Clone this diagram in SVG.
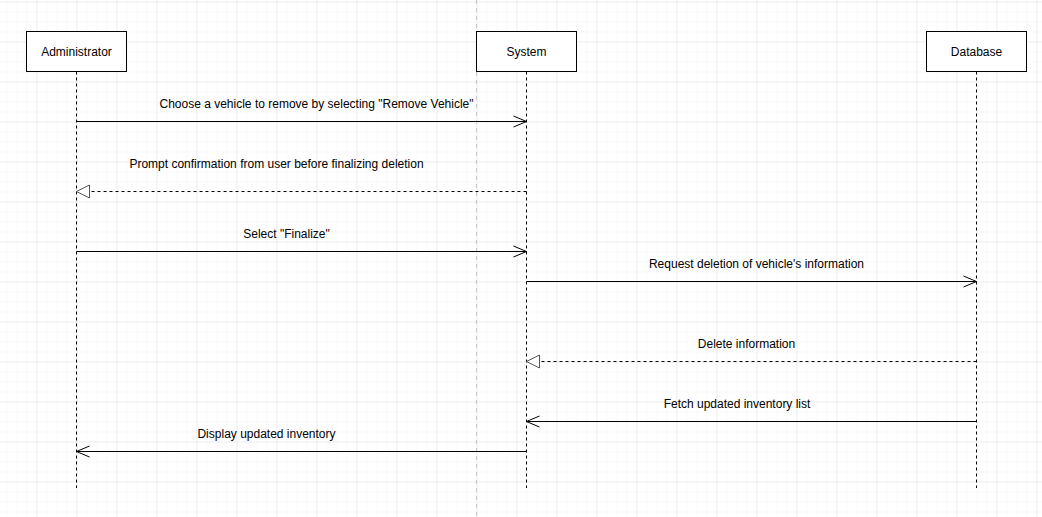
<svg xmlns="http://www.w3.org/2000/svg" width="1042" height="517" viewBox="0 0 1042 517">
<style>
.box{fill:#fff;stroke:#000;stroke-width:1}
.life{stroke:#000;stroke-width:1;stroke-dasharray:3 3;fill:none}
.msg{stroke:#000;stroke-width:1;fill:none}
.ret{stroke:#000;stroke-width:1;fill:none;stroke-dasharray:3 3}
text{font-family:"Liberation Sans",Arial,sans-serif;font-size:12px;fill:#000;text-anchor:middle}
</style>
<defs>
<pattern id="minor" patternUnits="userSpaceOnUse" x="6.5" y="1.5" width="10" height="10">
<path d="M0 0H10M0 0V10" stroke="#f3f3f3" stroke-width="1" fill="none"/>
</pattern>
<pattern id="major" patternUnits="userSpaceOnUse" x="36.5" y="1.5" width="40" height="40">
<path d="M0 0H40M0 0V40" stroke="#e2e2e2" stroke-width="1" fill="none"/>
</pattern>
<marker id="open" markerUnits="userSpaceOnUse" markerWidth="16" markerHeight="14" refX="14" refY="7" orient="auto">
<path d="M1 1.5L14 7L1 12.5" fill="none" stroke="#000" stroke-width="1"/>
</marker>
<marker id="tri" markerUnits="userSpaceOnUse" markerWidth="16" markerHeight="16" refX="14" refY="8" orient="auto">
<path d="M1 1.5L14 8L1 14.5Z" fill="#fff" stroke="#555" stroke-width="1"/>
</marker>
</defs>
<rect width="1042" height="517" fill="#fff"/>
<rect width="1042" height="517" fill="url(#minor)"/>
<rect width="1042" height="517" fill="url(#major)"/>
<line x1="476.5" y1="0" x2="476.5" y2="517" stroke="#c8c8c8" stroke-dasharray="4 4"/>

<g id="administrator">
<line class="life" x1="76.5" y1="71.5" x2="76.5" y2="488"/>
<rect class="box" x="26.5" y="31.5" width="100" height="40"/>
<text x="76.5" y="55.5">Administrator</text>
</g>
<g id="system">
<line class="life" x1="526.5" y1="71.5" x2="526.5" y2="488"/>
<rect class="box" x="476.5" y="31.5" width="100" height="40"/>
<text x="526.5" y="55.5">System</text>
</g>
<g id="database">
<line class="life" x1="976.5" y1="71.5" x2="976.5" y2="488"/>
<rect class="box" x="926.5" y="31.5" width="100" height="40"/>
<text x="976.5" y="55.5">Database</text>
</g>

<g id="connectors">
<line class="msg" x1="76.5" y1="121.5" x2="526.5" y2="121.5" marker-end="url(#open)"/>
<text x="316.5" y="108">Choose a vehicle to remove by selecting "Remove Vehicle"</text>
<line class="ret" x1="526.5" y1="191.5" x2="76.5" y2="191.5" marker-end="url(#tri)"/>
<text x="276.5" y="167.5">Prompt confirmation from user before finalizing deletion</text>
<line class="msg" x1="76.5" y1="251.5" x2="526.5" y2="251.5" marker-end="url(#open)"/>
<text x="286.5" y="238">Select "Finalize"</text>
<line class="msg" x1="526.5" y1="281.5" x2="976.5" y2="281.5" marker-end="url(#open)"/>
<text x="756.5" y="268">Request deletion of vehicle's information</text>
<line class="ret" x1="976.5" y1="361.5" x2="526.5" y2="361.5" marker-end="url(#tri)"/>
<text x="746.5" y="348">Delete information</text>
<line class="msg" x1="976.5" y1="421.5" x2="526.5" y2="421.5" marker-end="url(#open)"/>
<text x="737" y="408">Fetch updated inventory list</text>
<line class="msg" x1="526.5" y1="451.5" x2="76.5" y2="451.5" marker-end="url(#open)"/>
<text x="266.5" y="438">Display updated inventory</text>
</g>
</svg>
